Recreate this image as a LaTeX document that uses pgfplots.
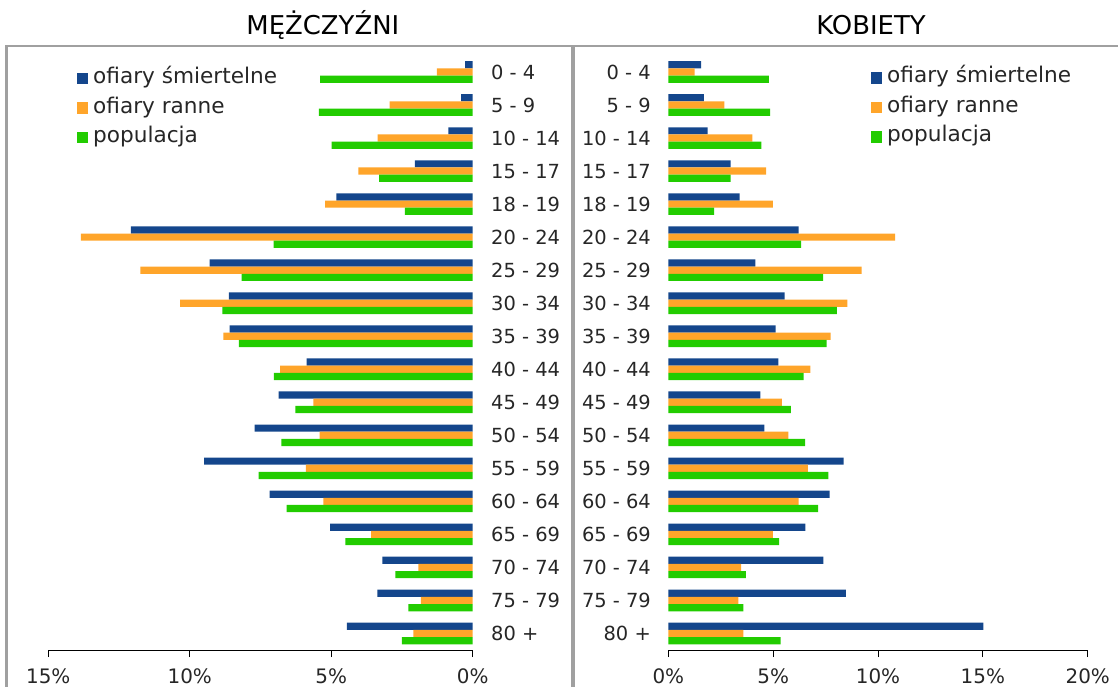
\documentclass[border=0pt]{standalone}
\usepackage{pgfplots}
\pgfplotsset{compat=1.18}
\usepackage{fontspec}
\setmainfont{DejaVu Sans}
\definecolor{cblue}{HTML}{14468C}
\definecolor{corange}{HTML}{FFA52A}
\definecolor{cgreen}{HTML}{22CC00}
\definecolor{cframe}{HTML}{A0A0A0}
\definecolor{ctext}{HTML}{262626}

\pgfplotsset{
  sqlegend/.style={legend image code/.code={\fill[##1, draw=none] (0bp,-5.8bp) rectangle (11.5bp,5.8bp); \path (16.5bp,0bp);}},
  pyr/.style={
    scale only axis,
    height=594.5bp,
    xbar, bar width=7.2bp,
    every axis plot post/.append style={sqlegend},
    ymin=-0.5, ymax=17.5, y dir=reverse,
    ytick={0,...,17},
    yticklabels={0 - 4,5 - 9,10 - 14,15 - 17,18 - 19,20 - 24,25 - 29,30 - 34,35 - 39,40 - 44,45 - 49,50 - 54,55 - 59,60 - 64,65 - 69,70 - 74,75 - 79,80 +},
    axis x line*=bottom,
    x axis line style={-, black, line width=1bp},
    y axis line style={draw=none},
    ytick style={draw=none},
    xtick style={black, line width=1bp},
    tick align=outside,
    major tick length=7bp,
    yticklabel style={font=\fontsize{19.5}{22}\selectfont, text=ctext, inner sep=0pt},
    xticklabel style={font=\fontsize{20}{24}\selectfont, text=ctext, yshift=-8.5bp},
    legend cell align=left,
    legend style={draw=none, fill=none, inner sep=0pt, outer sep=0pt, row sep=9.5bp, anchor=north west,
      font=\fontsize{21.7}{24}\selectfont, text=ctext,
      nodes={inner sep=0pt, text height=15bp, text depth=5bp}},
    title style={font=\fontsize{26}{30}\selectfont, text=black, inner sep=0pt, anchor=base},
    clip=false,
  }
}

\begin{document}
\begin{tikzpicture}[x=1bp,y=1bp]
\useasboundingbox (0,0) rectangle (1118,687);
\clip (0,0) rectangle (1118,687);
% panel frames
\draw[cframe, line width=2.5bp] (6.5,-5) -- (6.5,641) -- (572.5,641);
\draw[cframe, line width=4bp] (572.5,-5) -- (572.5,641);
\draw[cframe, line width=2.5bp] (572.5,641) -- (1125,641);

% MEN
\begin{axis}[pyr,
  at={(48.3bp,37bp)}, anchor=south west,
  width=424.4bp,
  x dir=reverse, xmin=0, xmax=15,
  xtick={0,5,10,15}, xticklabels={0\%,5\%,10\%,15\%},
  yticklabel pos=right,
  yticklabel style={anchor=west, xshift=11.3bp},
  title={MĘŻCZYŹNI},
  title style={at={(axis description cs:0.647,1.026)}},
  legend style={at={(axis description cs:0.0669,0.9778)}},
]
\addplot[fill=cblue, draw=none, bar shift=7.2bp] coordinates {
(0.27,0) (0.41,1) (0.86,2) (2.04,3) (4.82,4) (12.08,5) (9.30,6) (8.62,7) (8.59,8)
(5.87,9) (6.86,10) (7.71,11) (9.49,12) (7.18,13) (5.04,14) (3.19,15) (3.37,16) (4.45,17)};
\addplot[fill=corange, draw=none, bar shift=0bp] coordinates {
(1.27,0) (2.94,1) (3.36,2) (4.04,3) (5.22,4) (13.85,5) (11.75,6) (10.34,7) (8.81,8)
(6.81,9) (5.63,10) (5.41,11) (5.90,12) (5.28,13) (3.59,14) (1.92,15) (1.83,16) (2.10,17)};
\addplot[fill=cgreen, draw=none, bar shift=-7.2bp] coordinates {
(5.39,0) (5.44,1) (4.99,2) (3.31,3) (2.40,4) (7.04,5) (8.17,6) (8.85,7) (8.26,8)
(7.03,9) (6.27,10) (6.76,11) (7.57,12) (6.58,13) (4.50,14) (2.73,15) (2.27,16) (2.50,17)};
\legend{ofiary śmiertelne, ofiary ranne, populacja}
\end{axis}

% WOMEN
\begin{axis}[pyr,
  at={(668.3bp,37bp)}, anchor=south west,
  width=419.4bp,
  xmin=0, xmax=20,
  xtick={0,5,10,15,20}, xticklabels={0\%,5\%,10\%,15\%,20\%},
  yticklabel pos=left,
  yticklabel style={anchor=east, xshift=-10.3bp},
  title={KOBIETY},
  title style={at={(axis description cs:0.4833,1.026)}},
  legend style={at={(axis description cs:0.4826,0.9793)}},
]
\addplot[fill=cblue, draw=none, bar shift=7.2bp] coordinates {
(1.56,0) (1.69,1) (1.88,2) (2.97,3) (3.40,4) (6.22,5) (4.15,6) (5.55,7) (5.12,8)
(5.25,9) (4.39,10) (4.58,11) (8.36,12) (7.69,13) (6.53,14) (7.39,15) (8.47,16) (15.02,17)};
\addplot[fill=corange, draw=none, bar shift=0bp] coordinates {
(1.26,0) (2.67,1) (4.01,2) (4.67,3) (4.99,4) (10.81,5) (9.22,6) (8.54,7) (7.74,8)
(6.77,9) (5.42,10) (5.72,11) (6.65,12) (6.22,13) (4.99,14) (3.47,15) (3.34,16) (3.58,17)};
\addplot[fill=cgreen, draw=none, bar shift=-7.2bp] coordinates {
(4.80,0) (4.86,1) (4.44,2) (2.97,3) (2.18,4) (6.33,5) (7.38,6) (8.04,7) (7.55,8)
(6.45,9) (5.85,10) (6.52,11) (7.63,12) (7.14,13) (5.29,14) (3.70,15) (3.58,16) (5.36,17)};
\legend{ofiary śmiertelne, ofiary ranne, populacja}
\end{axis}
\end{tikzpicture}
\end{document}
